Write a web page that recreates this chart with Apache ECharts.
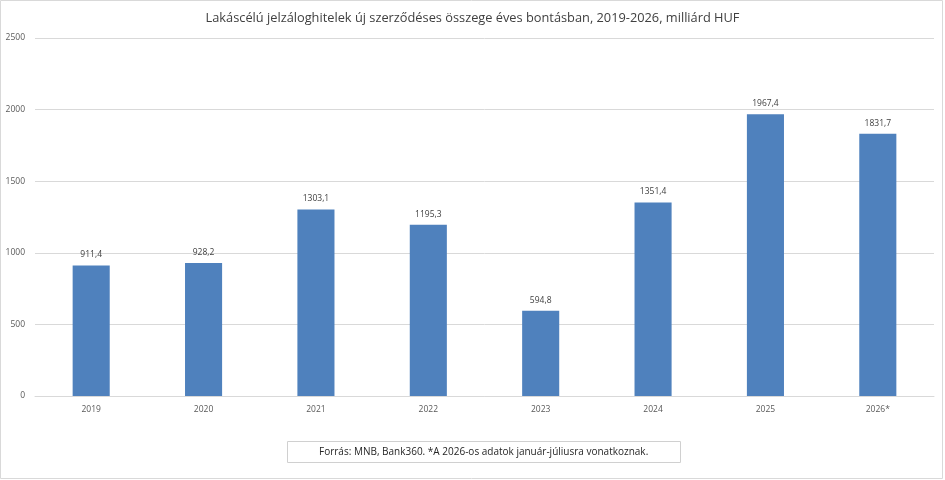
<!DOCTYPE html>
<html>
<head>
<meta charset="utf-8">
<script src="https://cdn.jsdelivr.net/npm/echarts@6/dist/echarts.min.js"></script>
<style>
  html, body { margin: 0; padding: 0; background: #fff; }
  #chart { width: 945px; height: 480px; }
</style>
</head>
<body>
<div id="chart"></div>
<script>
const years = ['2019', '2020', '2021', '2022', '2023', '2024', '2025', '2026*']
const amounts = [911.4, 928.2, 1303.1, 1195.3, 594.8, 1351.4, 1967.4, 1831.7]
const chartTitle = 'Lakáscélú jelzáloghitelek új szerződéses összege éves bontásban, 2019-2026, milliárd HUF'
const sourceNote = 'Forrás: MNB, Bank360. *A 2026-os adatok január-júliusra vonatkoznak.'

const font = '"Open Sans", "Liberation Sans", sans-serif'
const chart = echarts.init(document.getElementById('chart'))

chart.setOption({
  animation: false,
  textStyle: { fontFamily: font },
  title: [
    {
      text: chartTitle,
      left: 'center',
      top: 7,
      textStyle: { fontSize: 12.8, fontWeight: 'normal', color: '#404040', fontFamily: font }
    },
    {
      text: sourceNote,
      left: 287,
      top: 441,
      padding: [6, 32, 6, 32],
      borderColor: '#d0d0d0',
      borderWidth: 1,
      textStyle: { fontSize: 10, fontWeight: 'normal', color: '#262626', fontFamily: font }
    }
  ],
  graphic: [{
    type: 'rect',
    shape: { x: 0.5, y: 0.5, width: 942, height: 478 },
    style: { fill: 'none', stroke: '#d9d9d9', lineWidth: 1 },
    silent: true
  }],
  grid: { left: 35, right: 11, top: 38, bottom: 84 },
  xAxis: {
    type: 'category',
    data: years,
    axisLine: { lineStyle: { color: '#d9d9d9' } },
    axisTick: { show: false },
    axisLabel: { color: '#595959', fontSize: 8.5, margin: 9 }
  },
  yAxis: {
    type: 'value',
    min: 0,
    max: 2500,
    interval: 500,
    axisLine: { show: false },
    axisTick: { show: false },
    axisLabel: { color: '#595959', fontSize: 8.5, margin: 10, formatter: v => String(v) },
    splitLine: { lineStyle: { color: '#d9d9d9' } }
  },
  series: [{
    type: 'bar',
    data: amounts,
    barWidth: '33%',
    itemStyle: { color: '#4f81bd' },
    label: {
      show: true,
      position: 'top',
      distance: 6,
      color: '#404040',
      fontSize: 8.5,
      formatter: p => String(p.value).replace('.', ',')
    }
  }]
})
</script>
</body>
</html>
